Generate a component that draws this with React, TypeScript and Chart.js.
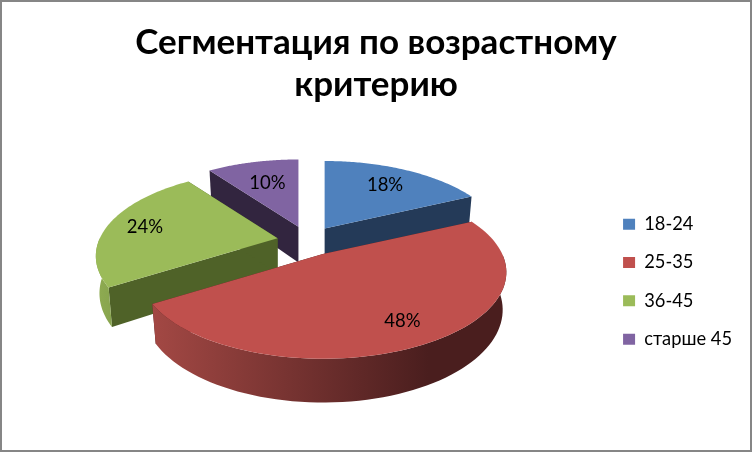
import React, { useEffect, useRef } from 'react';
import { Chart, registerables } from 'chart.js';

Chart.register(...registerables);

const categories = ['18-24', '25-35', '36-45', 'старше 45'];
const shares = [18, 48, 24, 10];
const percentLabels = ['18%', '48%', '24%', '10%'];

const topColors = ['#4F81BD', '#C0504D', '#9BBB59', '#8064A2'];
const wallColors = ['#243A58', '#4A1E1E', '#4F6228', '#32253F'];
const rimStart = ['#3A5F8C', '#A34844', '#8FAC52', '#5E4A78'];
const rimEnd = ['#243A58', '#4A1E1E', '#6E8A3E', '#32253F'];
const labelReach = [0.75, 0.75, 0.79, 0.68];

const FONT = 'Lato';

// pie projection, fitted by eye to the tilted pie in the reference
const CENTER_X = 308;
const CENTER_Y = 241;
const RADIUS_X = 178;
const RADIUS_Y = 82;
const PERSPECTIVE = 0.209;
const DEPTH = 36;
const EXPLODE = 31;
const EXPLODE_TILT = 0.48;
const NEARNESS = 0.04;
const BOTTOM_SCALE = 0.98;

// angle is the chart.js one, 0 = 3 o'clock; near shifts the whole slice towards the viewer
const project = (ax: number, ay: number, angle: number, r: number, near: number, bottom: boolean) => {
  const u = Math.cos(angle) * r;
  const v = Math.sin(angle) * r;
  const w = 1 - PERSPECTIVE * (v + near);
  const k = bottom ? BOTTOM_SCALE : 1;
  return {
    x: ax + (RADIUS_X * u * k) / w,
    y: ay + (RADIUS_Y * v * k) / w + (bottom ? DEPTH / w : 0),
  };
};

const pie3d = {
  id: 'pie3d',
  beforeDraw(chart: any) {
    const { ctx, width, height } = chart;
    ctx.save();
    ctx.fillStyle = '#fff';
    ctx.fillRect(0, 0, width, height);
    ctx.strokeStyle = '#868686';
    ctx.lineWidth = 2;
    ctx.strokeRect(1, 1, width - 2, height - 2);
    ctx.restore();
  },
  beforeDatasetDraw(chart: any) {
    const { ctx } = chart;
    const arcs = chart.getDatasetMeta(0).data;
    const apexes = arcs.map((arc: any) => {
      const mid = (arc.startAngle + arc.endAngle) / 2;
      return {
        x: CENTER_X + arc.options.offset * Math.cos(mid),
        y: CENTER_Y + arc.options.offset * EXPLODE_TILT * Math.sin(mid),
        near: NEARNESS * Math.sin(mid),
      };
    });
    // back to front, so the big front slice ends up on top
    [3, 0, 2, 1].forEach((i) => {
      const arc = arcs[i];
      const a = apexes[i];
      const steps = 80;
      const angles: number[] = [];
      for (let s = 0; s <= steps; s++) {
        angles.push(arc.startAngle + ((arc.endAngle - arc.startAngle) * s) / steps);
      }
      const top = angles.map((t) => project(a.x, a.y, t, 1, a.near, false));
      const bot = angles.map((t) => project(a.x, a.y, t, 1, a.near, true));
      const apexBottom = project(a.x, a.y, 0, 0, a.near, true);

      ctx.save();
      // flat walls
      ctx.fillStyle = wallColors[i];
      [0, steps].forEach((s) => {
        ctx.beginPath();
        ctx.moveTo(a.x, a.y);
        ctx.lineTo(top[s].x, top[s].y);
        ctx.lineTo(bot[s].x, bot[s].y);
        ctx.lineTo(apexBottom.x, apexBottom.y);
        ctx.closePath();
        ctx.fill();
      });
      // curved rim, only the part that faces the viewer
      const front = angles.map((t) => Math.sin(t) > 0);
      const rimTop = top.filter((_, n) => front[n]);
      const rimBot = bot.filter((_, n) => front[n]);
      if (rimTop.length > 1) {
        const xs = top.map((p) => p.x);
        const grad = ctx.createLinearGradient(Math.min(...xs), 0, Math.max(...xs), 0);
        grad.addColorStop(0, rimStart[i]);
        grad.addColorStop(0.78, rimEnd[i]);
        grad.addColorStop(1, rimEnd[i]);
        ctx.fillStyle = grad;
        ctx.beginPath();
        rimTop.forEach((p, n) => (n ? ctx.lineTo(p.x, p.y) : ctx.moveTo(p.x, p.y)));
        [...rimBot].reverse().forEach((p) => ctx.lineTo(p.x, p.y));
        ctx.closePath();
        ctx.fill();
      }
      // top face
      ctx.fillStyle = topColors[i];
      ctx.beginPath();
      ctx.moveTo(a.x, a.y);
      top.forEach((p) => ctx.lineTo(p.x, p.y));
      ctx.closePath();
      ctx.fill();
      ctx.restore();
    });

    ctx.save();
    ctx.fillStyle = '#000';
    ctx.font = `18.5px ${FONT}`;
    ctx.textAlign = 'center';
    ctx.textBaseline = 'middle';
    arcs.forEach((arc: any, i: number) => {
      const mid = (arc.startAngle + arc.endAngle) / 2;
      const edge = project(apexes[i].x, apexes[i].y, mid, 1, apexes[i].near, false);
      const x = apexes[i].x + (edge.x - apexes[i].x) * labelReach[i];
      const y = apexes[i].y + (edge.y - apexes[i].y) * labelReach[i];
      ctx.fillText(percentLabels[i], x, y);
    });
    ctx.restore();
    return false;
  },
};

export default function App() {
  const canvasRef = useRef<HTMLCanvasElement>(null);

  useEffect(() => {
    document.body.style.margin = '0';
    if (!canvasRef.current) return;
    const chart = new Chart(canvasRef.current, {
      type: 'pie',
      data: {
        labels: categories,
        datasets: [
          {
            data: shares,
            backgroundColor: topColors,
            borderWidth: 0,
            offset: EXPLODE,
          },
        ],
      },
      options: {
        responsive: false,
        animation: false,
        layout: { padding: { left: 10, right: 10, bottom: 5 } },
        plugins: {
          title: {
            display: true,
            text: ['Сегментация по возрастному', 'критерию'],
            color: '#000',
            font: { family: FONT, size: 35, weight: 'bold', lineHeight: 1.22 },
            padding: { top: 21, bottom: 10 },
          },
          legend: {
            position: 'right',
            fullSize: false,
            labels: {
              color: '#000',
              font: { family: FONT, size: 18.3 },
              boxWidth: 12,
              boxHeight: 11,
              padding: 20,
            },
          },
          tooltip: { enabled: false },
        },
      },
      plugins: [pie3d],
    } as any);
    return () => chart.destroy();
  }, []);

  return <canvas ref={canvasRef} width={752} height={452} style={{ display: 'block' }} />;
}
